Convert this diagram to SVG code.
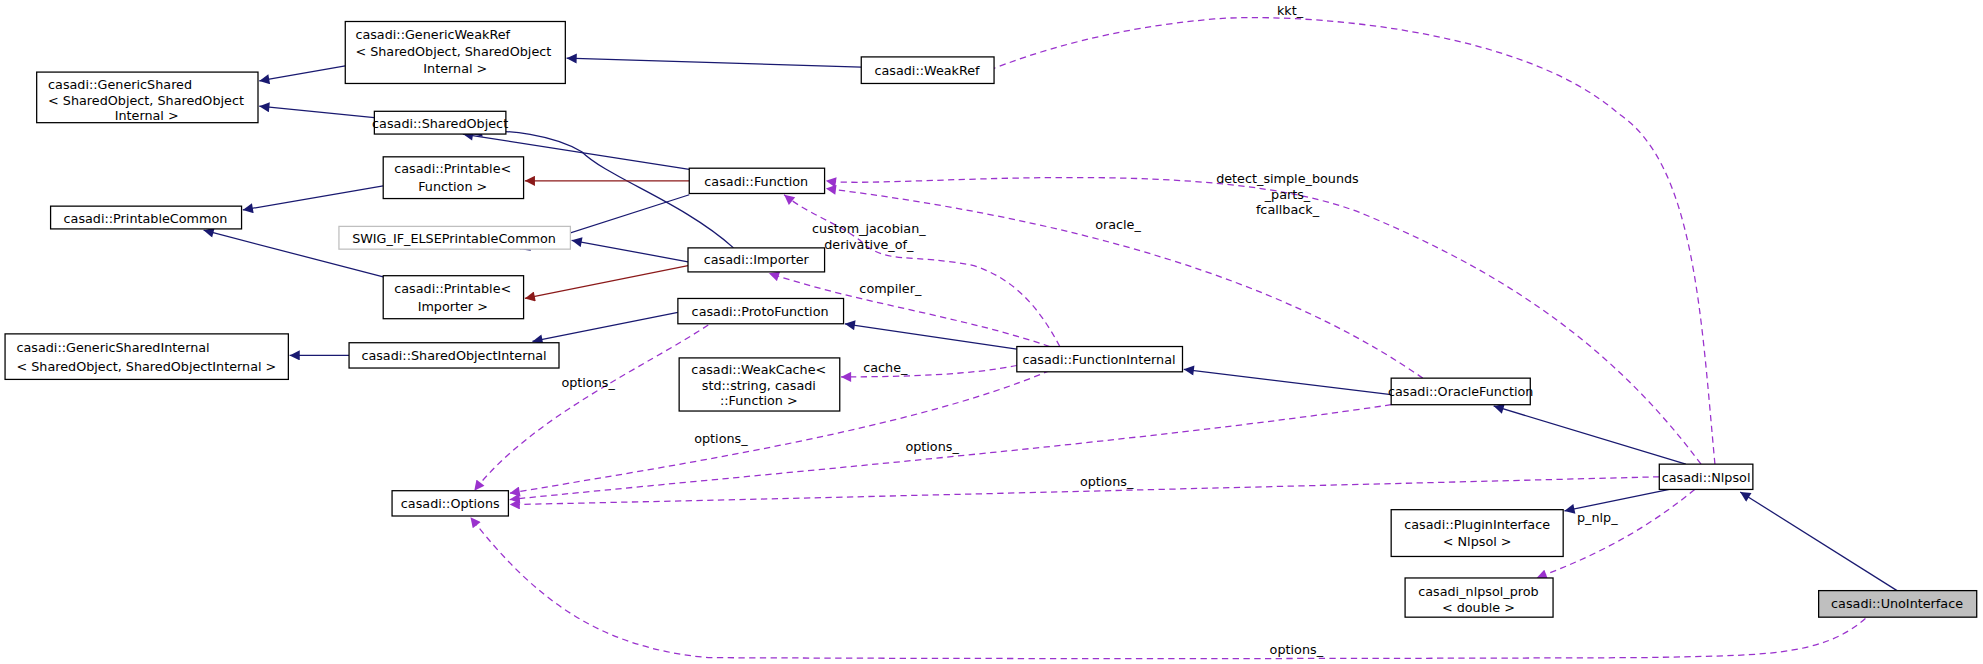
<svg xmlns="http://www.w3.org/2000/svg" width="1983" height="664" viewBox="0 0 1983 664">
<defs>
<style>
.n rect{fill:#fff;stroke:#000;stroke-width:1}
text{font-family:"DejaVu Sans",sans-serif;font-size:10.1px;fill:#000}
.b{fill:none;stroke:#191970;stroke-width:1}
.r{fill:none;stroke:#8b1a1a;stroke-width:1}
.p{fill:none;stroke:#9a32cd;stroke-width:1;stroke-dasharray:5,3.5}
.m{text-anchor:middle}
</style>
<marker id="ab" viewBox="0 0 10 10" refX="10" refY="5" markerWidth="9" markerHeight="8" orient="auto" markerUnits="userSpaceOnUse"><path d="M0,0L10,5L0,10z" fill="#191970"/></marker>
<marker id="ar" viewBox="0 0 10 10" refX="10" refY="5" markerWidth="9" markerHeight="8" orient="auto" markerUnits="userSpaceOnUse"><path d="M0,0L10,5L0,10z" fill="#8b1a1a"/></marker>
<marker id="ap" viewBox="0 0 10 10" refX="10" refY="5" markerWidth="9" markerHeight="8" orient="auto" markerUnits="userSpaceOnUse"><path d="M0,0L10,5L0,10z" fill="#9a32cd"/></marker>
</defs>
<rect width="1983" height="664" fill="#fff"/>
<g transform="scale(1.2647)">
<g id="connectors">
<path class="b" marker-end="url(#ab)" d="M273,52L205,64"/>
<path class="b" marker-end="url(#ab)" d="M681,53L448,46"/>
<path class="b" marker-end="url(#ab)" d="M296,93L205,84"/>
<path class="b" marker-end="url(#ab)" d="M545,134L366,106"/>
<path class="b" marker-end="url(#ab)" d="M580,196C540,160 480,140 460,120C440,108 400,100 373,106"/>
<path class="b" marker-end="url(#ab)" d="M303,147L192,166"/>
<path class="b" marker-end="url(#ab)" d="M303,219L161,182"/>
<path class="b" marker-end="url(#ab)" d="M545,154L411,197"/>
<path class="b" marker-end="url(#ab)" d="M544,207L452,190"/>
<path class="b" marker-end="url(#ab)" d="M804,276L668,256"/>
<path class="b" marker-end="url(#ab)" d="M536,247L421,270"/>
<path class="b" marker-end="url(#ab)" d="M276,281L229,281"/>
<path class="b" marker-end="url(#ab)" d="M1100,312L936,292"/>
<path class="b" marker-end="url(#ab)" d="M1333,367L1181,321"/>
<path class="b" marker-end="url(#ab)" d="M1320,387L1237,404"/>
<path class="b" marker-end="url(#ab)" d="M1500,467L1376,389"/>
<path class="r" marker-end="url(#ar)" d="M545,143L415,143"/>
<path class="r" marker-end="url(#ar)" d="M544,210L415,236"/>
<path class="p" marker-end="url(#ap)" d="M1356,367C1345,250 1340,130 1280,90C1200,20 1020,10 960,15C880,22 820,40 776,58"/>
<path class="p" marker-end="url(#ap)" d="M1345,367C1280,280 1200,220 1080,170C960,120 700,150 653,143"/>
<path class="p" marker-end="url(#ap)" d="M1125,299C1040,240 900,180 653,149"/>
<path class="p" marker-end="url(#ap)" d="M838,274C820,240 800,220 770,210C720,200 700,210 680,190C660,175 640,170 620,154"/>
<path class="p" marker-end="url(#ap)" d="M830,274C760,250 680,240 608,216"/>
<path class="p" marker-end="url(#ap)" d="M804,289C770,296 720,298 665,298"/>
<path class="p" marker-end="url(#ap)" d="M560,257C510,290 420,330 375,388"/>
<path class="p" marker-end="url(#ap)" d="M830,293C720,340 520,370 403,390"/>
<path class="p" marker-end="url(#ap)" d="M1100,320C900,350 600,375 403,395"/>
<path class="p" marker-end="url(#ap)" d="M1312,377C1000,385 600,395 403,399"/>
<path class="p" marker-end="url(#ap)" d="M1475,489C1440,520 1390,518 1300,520C1000,521 800,521 560,520C470,512 420,470 372,409"/>
<path class="p" marker-end="url(#ap)" d="M1340,387C1300,420 1260,440 1215,457"/>
</g>
<g id="labels">
<text x="1020" y="12" class="m">kkt_</text>
<text x="1018" y="145" class="m">detect_simple_bounds</text>
<text x="1018" y="157" class="m">_parts_</text>
<text x="1018" y="169" class="m">fcallback_</text>
<text x="884" y="181" class="m">oracle_</text>
<text x="687" y="184" class="m">custom_jacobian_</text>
<text x="687" y="197" class="m">derivative_of_</text>
<text x="704" y="232" class="m">compiler_</text>
<text x="700" y="294" class="m">cache_</text>
<text x="465" y="306" class="m">options_</text>
<text x="570" y="350" class="m">options_</text>
<text x="737" y="357" class="m">options_</text>
<text x="875" y="384" class="m">options_</text>
<text x="1025" y="517" class="m">options_</text>
<text x="1263" y="413" class="m">p_nlp_</text>
</g>
<g id="GenericShared" class="n"><rect x="29" y="57" width="175" height="40"/><text x="38" y="70">casadi::GenericShared</text><text x="38" y="83">&lt; SharedObject, SharedObject</text><text x="116" y="95" class="m">Internal &gt;</text></g>
<g id="GenericWeakRef" class="n"><rect x="273" y="17" width="174" height="49"/><text x="281" y="31">casadi::GenericWeakRef</text><text x="281" y="44">&lt; SharedObject, SharedObject</text><text x="360" y="58" class="m">Internal &gt;</text></g>
<g id="WeakRef" class="n"><rect x="681" y="45" width="105" height="21"/><text x="733" y="59" class="m">casadi::WeakRef</text></g>
<g id="SharedObject" class="n"><rect x="296" y="88" width="104" height="18"/><text x="348" y="101" class="m">casadi::SharedObject</text></g>
<g id="PrintableFunction" class="n"><rect x="303" y="124" width="111" height="33"/><text x="358" y="137" class="m">casadi::Printable&lt;</text><text x="358" y="151" class="m">Function &gt;</text></g>
<g id="PrintableCommon" class="n"><rect x="40" y="163" width="151" height="18"/><text x="115" y="176" class="m">casadi::PrintableCommon</text></g>
<g id="SWIG" class="n"><rect x="268" y="179" width="183" height="18" style="stroke:#bfbfbf"/><text x="359" y="192" class="m">SWIG_IF_ELSEPrintableCommon</text></g>
<g id="PrintableImporter" class="n"><rect x="303" y="218" width="111" height="34"/><text x="358" y="232" class="m">casadi::Printable&lt;</text><text x="358" y="246" class="m">Importer &gt;</text></g>
<g id="Function" class="n"><rect x="545" y="133" width="107" height="20"/><text x="598" y="147" class="m">casadi::Function</text></g>
<g id="Importer" class="n"><rect x="544" y="196" width="108" height="19"/><text x="598" y="209" class="m">casadi::Importer</text></g>
<g id="ProtoFunction" class="n"><rect x="536" y="236" width="131" height="20"/><text x="601" y="250" class="m">casadi::ProtoFunction</text></g>
<g id="SharedObjectInternal" class="n"><rect x="276" y="271" width="166" height="20"/><text x="359" y="285" class="m">casadi::SharedObjectInternal</text></g>
<g id="GenericSharedInternal" class="n"><rect x="4" y="264" width="224" height="36"/><text x="13" y="278">casadi::GenericSharedInternal</text><text x="13" y="293">&lt; SharedObject, SharedObjectInternal &gt;</text></g>
<g id="WeakCache" class="n"><rect x="537" y="283" width="127" height="42"/><text x="600" y="296" class="m">casadi::WeakCache&lt;</text><text x="600" y="308" class="m">std::string, casadi</text><text x="600" y="320" class="m">::Function &gt;</text></g>
<g id="FunctionInternal" class="n"><rect x="804" y="274" width="131" height="20"/><text x="869" y="288" class="m">casadi::FunctionInternal</text></g>
<g id="OracleFunction" class="n"><rect x="1100" y="299" width="110" height="21"/><text x="1155" y="313" class="m">casadi::OracleFunction</text></g>
<g id="Nlpsol" class="n"><rect x="1312" y="367" width="74" height="20"/><text x="1349" y="381" class="m">casadi::Nlpsol</text></g>
<g id="PluginInterface" class="n"><rect x="1100" y="403" width="136" height="37"/><text x="1168" y="418" class="m">casadi::PluginInterface</text><text x="1168" y="432" class="m">&lt; Nlpsol &gt;</text></g>
<g id="NlpsolProb" class="n"><rect x="1111" y="457" width="117" height="31"/><text x="1169" y="471" class="m">casadi_nlpsol_prob</text><text x="1169" y="484" class="m">&lt; double &gt;</text></g>
<g id="UnoInterface" class="n"><rect x="1438" y="467" width="125" height="21" style="fill:#bfbfbf"/><text x="1500" y="481" class="m">casadi::UnoInterface</text></g>
<g id="Options" class="n"><rect x="310" y="388" width="92" height="20"/><text x="356" y="402" class="m">casadi::Options</text></g>
</g>
</svg>
